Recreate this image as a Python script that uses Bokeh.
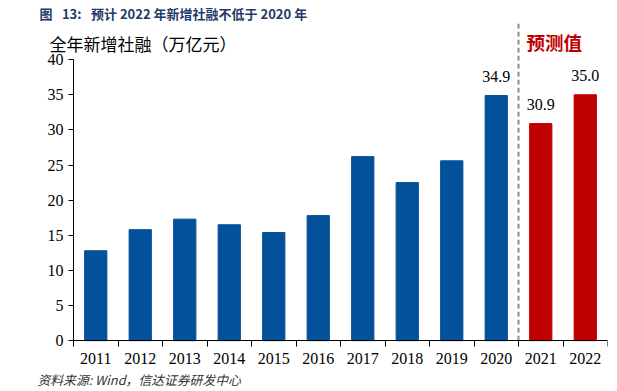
from bokeh.plotting import figure
from bokeh.models import (FixedTicker, Label, LabelSet, ColumnDataSource, Range1d, Title,
                          LinearAxis)
from bokeh.embed import file_html
from bokeh.resources import INLINE

years = ["2011", "2012", "2013", "2014", "2015", "2016", "2017", "2018", "2019", "2020", "2021", "2022"]
values = [12.8, 15.8, 17.3, 16.5, 15.4, 17.8, 26.2, 22.5, 25.6, 34.9, 30.9, 35.0]
is_forecast = [False] * 10 + [True] * 2
labeled = [False] * 9 + [True] * 3
y_ticks = [0, 5, 10, 15, 20, 25, 30, 35, 40]

title_text = "图\u2002 13:\u2002 预计 2022 年新增社融不低于 2020 年"
unit_text = "全年新增社融（万亿元）"
forecast_text = "预测值"
source_text = "资料来源: Wind，信达证券研发中心"

BLUE = "#03519A"
RED = "#C00000"
SERIF = "'Liberation Serif', 'Times New Roman', serif"
CJK = "'Noto Sans CJK SC'"

xs = list(range(len(years)))
colors = [RED if f else BLUE for f in is_forecast]
src = ColumnDataSource(dict(x=xs, top=values, color=colors))
lab_src = ColumnDataSource(dict(
    x=[x for x, l in zip(xs, labeled) if l],
    y=[v for v, l in zip(values, labeled) if l],
    text=[f"{v:.1f}" for v, l in zip(values, labeled) if l],
))
divider = len(years) - 2.5          # between actual and forecast years
boundaries = [i - 0.5 for i in range(len(years) + 1)]

PX = 44.5                      # pixels per category
AXIS_PX, FRAME_PX = 73, 39     # y-axis position and frame left edge (page pixels)
x_start = -0.5 - (AXIS_PX - FRAME_PX) / PX
Y_START, Y_END = -1.4, 45.29

p = figure(frame_width=568, frame_height=328,
           min_border_left=FRAME_PX, min_border_right=10, min_border_top=22, min_border_bottom=40,
           x_range=Range1d(x_start, len(years) - 0.5), y_range=Range1d(Y_START, Y_END),
           output_backend="svg", toolbar_location=None, tools="")
p.outline_line_color = None
p.xgrid.visible = False
p.ygrid.visible = False
p.background_fill_color = "white"
p.border_fill_color = "white"

p.title.text = title_text
p.title.align = "left"
p.title.offset = 0
p.title.standoff = 0
p.title.text_font = CJK
p.title.text_font_style = "bold"
p.title.text_font_size = "13px"
p.title.text_color = "#1F3A68"

p.vbar(x="x", top="top", bottom=0, width=0.5, color="color", source=src)

p.segment(x0=[divider], y0=[0], x1=[divider], y1=[Y_END],
          line_color="#8C8C8C", line_width=2, line_dash="5 3")

# y axis, drawn at the first category boundary
ya = p.yaxis[0]
ya.fixed_location = -0.5
ya.ticker = FixedTicker(ticks=y_ticks)
ya.bounds = (0, 40)
ya.major_tick_out = 5
ya.major_tick_in = 0
ya.minor_tick_out = 0
ya.minor_tick_in = 0
ya.axis_line_color = "black"
ya.major_tick_line_color = "black"
ya.major_label_text_font = SERIF
ya.major_label_text_font_size = "16px"
ya.major_label_text_color = "black"
ya.major_label_standoff = 5

# x axis labels (below the frame)
xa = p.xaxis[0]
xa.ticker = FixedTicker(ticks=xs, minor_ticks=[])
xa.major_label_overrides = {i: y for i, y in enumerate(years)}
xa.major_tick_out = 0
xa.major_tick_in = 0
xa.minor_tick_out = 0
xa.minor_tick_in = 0
xa.axis_line_color = None
xa.major_label_text_font = SERIF
xa.major_label_text_font_size = "16px"
xa.major_label_text_color = "black"
xa.major_label_standoff = 2

# x axis line and category boundary ticks at y = 0
xline = LinearAxis(fixed_location=0, bounds=(-0.5, len(years) - 0.5),
                   ticker=FixedTicker(ticks=[], minor_ticks=boundaries),
                   major_tick_out=0, major_tick_in=0, minor_tick_out=6, minor_tick_in=0,
                   minor_tick_line_color="black", axis_line_color="black",
                   major_label_text_alpha=0)
p.add_layout(xline, "below")

p.add_layout(Title(text=source_text, align="left", offset=-2, standoff=2,
                   text_font=CJK, text_font_style="italic", text_font_size="12.8px",
                   text_color="#333333"), "below")

p.add_layout(LabelSet(x="x", y="y", text="text", source=lab_src, y_offset=19,
                      text_align="center", text_baseline="middle",
                      text_font=SERIF, text_font_size="16px", text_color="black"))

def dx(px):
    return (px - AXIS_PX) / PX - 0.5

def dy(py):
    return (340.2 - py) / 7.025

p.add_layout(Label(x=dx(49), y=dy(43), text=unit_text, text_baseline="middle",
                   text_font=CJK, text_font_size="17px", text_color="black"))
p.add_layout(Label(x=dx(526), y=dy(42), text=forecast_text, text_baseline="middle",
                   text_font=CJK, text_font_style="bold",
                   text_font_size="18.5px", text_color=RED))

open("out.html", "w").write(file_html(p, INLINE))
